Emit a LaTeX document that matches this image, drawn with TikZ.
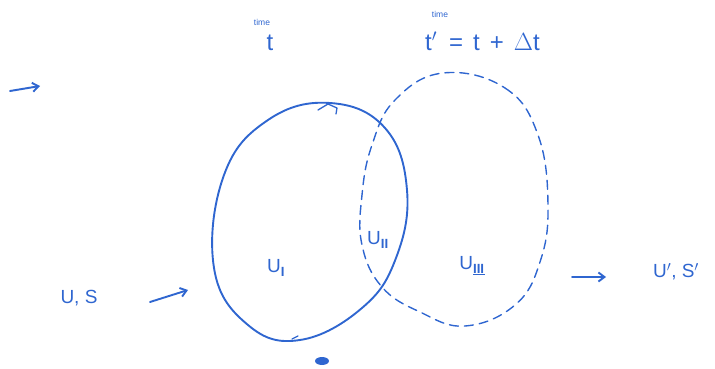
\documentclass[tikz,border=0pt]{standalone}
\usepackage{fontspec}
\setmainfont{Liberation Sans}
\usetikzlibrary{arrows.meta}
\definecolor{ink}{HTML}{2F66D0}
\tikzset{
  pen/.style={draw=ink, line width=1.9pt, line cap=round, line join=round},
  dpen/.style={pen, line width=1.4pt, dash pattern=on 9pt off 6pt},
  lbl/.style={text=ink, font=\fontsize{19}{21}\selectfont, inner sep=1pt},
  big/.style={text=ink, font=\fontsize{24}{26}\selectfont, inner sep=1pt},
  small/.style={text=ink, font=\fontsize{8.5}{9}\selectfont, inner sep=0pt},
  arr/.style={pen, -{Straight Barb[length=6pt,width=9pt]}}
}
\begin{document}
\begin{tikzpicture}[x=1pt,y=-1pt]
\useasboundingbox (0,0) rectangle (715,369);
% solid region (time t)
\draw[pen] plot[smooth cycle, tension=0.7] coordinates {(330,103) (385,128) (407,190) (396,258) (362,308) (300,340) (248,325) (214,268) (224,175) (268,120)};
% dashed region (time t')
\draw[dpen] plot[smooth cycle, tension=0.7] coordinates {(443,73) (505,88) (538,135) (548,205) (540,262) (515,305) (465,326) (420,312) (382,287) (362,245) (362,195) (372,145) (395,100)};
% small marks on the solid curve
\draw[pen, line width=1.3pt] (318,110) -- (328,104) -- (337,108) (337,108) -- (336,114);
\draw[pen, line width=1.3pt] (292,339) -- (298,336);
\fill[ink] (322,361) ellipse (7pt and 4pt);
% labels
\node[lbl] (ui) at (276,268) {U$_{\mathbf{I}}$};
\node[lbl] (uii) at (378,240) {U$_{\mathbf{II}}$};
\node[lbl] (uiii) at (472,266) {U$_{\underline{\mathbf{III}}}$};
\node[small] (time1) at (262,22) {time};
\node[big] (t1) at (270,43) {t};
\node[small] (time2) at (440,14) {time};
\node[big, anchor=west] (t2) at (424,41) {t$'$\hspace{12pt}=\hspace{10pt}t\hspace{10pt}+\hspace{10pt}$\Delta$t};
\node[lbl] (us) at (79,298) {U, S};
\node[lbl] (us2) at (676,272) {U$'$, S$'$};
% arrows
\coordinate (a1) at (10,91);
\coordinate (a1e) at (40,86);
\draw[arr] (a1) -- (a1e);
\coordinate (a2) at (150,302);
\coordinate (a2e) at (188,290);
\draw[arr] (a2) -- (a2e);
\coordinate (a3) at (572,277);
\coordinate (a3e) at (606,277);
\draw[arr] (a3) -- (a3e);
\end{tikzpicture}
\end{document}
